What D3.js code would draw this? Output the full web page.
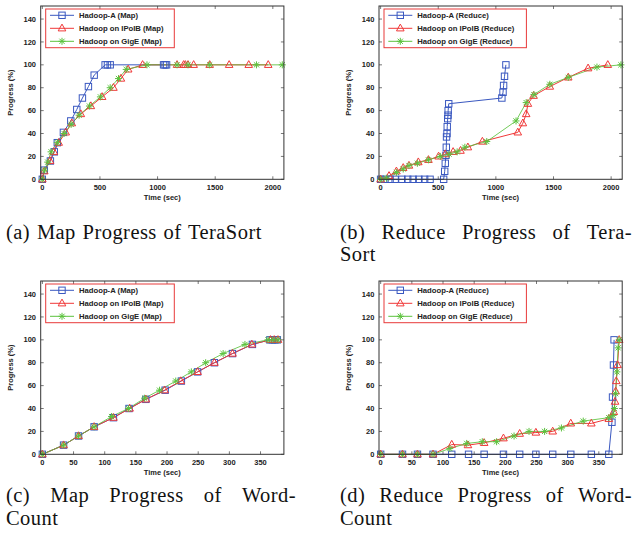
<!DOCTYPE html>
<html>
<head>
<meta charset="utf-8">
<script src="https://cdn.jsdelivr.net/npm/d3@7/dist/d3.min.js"></script>
<style>
  body { margin: 0; background: #fff; }
  svg { display: block; }
</style>
</head>
<body>
<svg id="fig" width="635" height="540"></svg>
<script>
// ---- data ----
const teraMapHadoopA = [[0,0],[17,8],[70,16],[104,24],[130,32],[183,41],[247,51],[299,61],[348,71],[400,81],[450,91],[545,100],[565,100],[589,100],[1052,100],[1065,100],[1078,100]];
const teraMapIPoIB = [[0,0],[17,7],[67,16],[100,24],[142,32],[203,41],[256,49],[334,57],[421,64],[519,72],[617,80],[682,88],[745,96],[870,100],[1169,100],[1226,100],[1241,100],[1264,100],[1313,100],[1452,100],[1621,100],[1791,100],[1960,100]];
const teraMapGigE = [[0,0],[20,8],[47,15],[76,24],[130,32],[189,40],[250,48],[319,56],[409,64],[504,72],[589,80],[661,88],[728,96],[908,100],[1169,100],[1264,100],[1452,100],[1858,100],[2082,100]];

const teraReduceHadoopA = [[0,0],[38,0],[82,0],[126,0],[185,0],[235,0],[282,0],[332,0],[382,0],[429,0],[547,0],[556,7],[561,14],[567,21],[570,28],[572,37],[576,40],[578,46],[582,53],[585,56],[586,60],[591,66],[1052,71],[1062,76],[1067,82],[1075,90],[1087,100]];
const teraReduceIPoIB = [[0,0],[73,3],[137,7],[196,10],[246,12],[327,15],[415,17],[503,20],[561,22],[629,24],[693,25],[757,28],[883,33],[1190,41],[1234,49],[1263,57],[1278,66],[1327,73],[1468,81],[1628,89],[1800,97],[1971,100]];
const teraReduceGigE = [[0,0],[50,1],[137,6],[196,9],[246,12],[319,14],[415,17],[518,20],[594,22],[664,24],[731,28],[921,33],[1175,51],[1263,67],[1330,74],[1468,83],[1628,89],[1877,98],[2085,100]];

const wordMapHadoopA = [[0,0],[34,8],[58,16],[83,24],[114,32],[139,40],[166,48],[197,56],[223,64],[249,72],[276,80],[305,88],[337,96],[365,100],[369,100],[373,100],[377,100]];
const wordMapIPoIB = [[0,0],[34,8],[58,16],[83,24],[114,32],[140,40],[166,48],[196,56],[222,64],[249,72],[276,80],[305,88],[336,96],[366,100],[372,100],[378,100]];
const wordMapGigE = [[0,0],[34,8],[58,16],[83,24],[111,33],[138,40],[164,49],[188,56],[214,64],[239,72],[262,80],[290,88],[325,96],[362,100],[370,100],[378,100]];

const wordReduceHadoopA = [[0,0],[35,0],[59,0],[84,0],[114,0],[141,0],[166,0],[197,0],[223,0],[249,0],[276,0],[305,0],[338,0],[366,0],[371,28],[372,50],[373.5,78],[374.5,100]];
const wordReduceIPoIB = [[0,0],[35,0],[59,0],[84,0],[114,8.5],[140,8],[166,10],[197,14],[223,18],[249,19],[276,20],[305,27],[338,27],[366,31],[374,37],[376,46],[377,55],[378,64],[380,78],[382.7,100]];
const wordReduceGigE = [[0,0],[35,0],[59,0],[84,0],[111,5],[138,9.5],[163,11],[186,11],[214,16],[238,20],[263,20],[290,23],[325,29],[366,32],[373,34],[375,40],[377,53],[379,72],[381,93],[382.7,100]];

const teraTicks = [0, 500, 1000, 1500, 2000];
const wordTicks = [0, 50, 100, 150, 200, 250, 300, 350];
const yTicks = [0, 20, 40, 60, 80, 100, 120, 140];
const seriesNames = ["Hadoop-A", "Hadoop on IPoIB", "Hadoop on GigE"];

// ---- styling ----
const colors = ["#3a58c0", "#f03838", "#5cc23e"];
const shapes = ["square", "triangle", "star"];
const axisFont = "Liberation Sans, Arial, sans-serif";
const serifFont = "Liberation Serif, Times New Roman, serif";

const svg = d3.select("#fig");

const panels = [
  { left: 40.7, top: 6, phase: "Map", xDomain: [-14, 2096], ticks: teraTicks,
    series: [teraMapHadoopA, teraMapIPoIB, teraMapGigE], legendW: 128.6 },
  { left: 379, top: 6, phase: "Reduce", xDomain: [-14, 2096], ticks: teraTicks,
    series: [teraReduceHadoopA, teraReduceIPoIB, teraReduceGigE], legendW: 142.4 },
  { left: 40.7, top: 281, phase: "Map", xDomain: [-2.7, 387.5], ticks: wordTicks,
    series: [wordMapHadoopA, wordMapIPoIB, wordMapGigE], legendW: 128.6 },
  { left: 379, top: 281, phase: "Reduce", xDomain: [-2.7, 387.5], ticks: wordTicks,
    series: [wordReduceHadoopA, wordReduceIPoIB, wordReduceGigE], legendW: 142.4 }
];
const plotW = 243.2, plotH = 173.3;

function drawMarker(g, shape, color) {
  if (shape === "square") {
    g.append("rect").attr("x", -3.2).attr("y", -3.2).attr("width", 6.4).attr("height", 6.4)
      .attr("fill", "none").attr("stroke", color).attr("stroke-width", 1);
  } else if (shape === "triangle") {
    g.append("path").attr("d", "M0,-4.2L3.8,2.6L-3.8,2.6Z")
      .attr("fill", "none").attr("stroke", color).attr("stroke-width", 1);
  } else {
    g.append("path").attr("d", "M-3.5,0H3.5M0,-3.5V3.5M-2.6,-2.6L2.6,2.6M-2.6,2.6L2.6,-2.6")
      .attr("fill", "none").attr("stroke", color).attr("stroke-width", 1);
  }
}

panels.forEach(p => {
  const x = d3.scaleLinear().domain(p.xDomain).range([0, plotW]);
  const y = d3.scaleLinear().domain([0, 151.4]).range([plotH, 0]);
  const g = svg.append("g").attr("transform", `translate(${p.left},${p.top})`);

  // mirrored inward ticks
  const tl = 3;
  g.selectAll(".ytl").data(yTicks).enter().append("path")
    .attr("d", d => `M0,${y(d)}h${tl}M${plotW},${y(d)}h${-tl}`)
    .attr("stroke", "#555").attr("stroke-width", 0.8);
  g.selectAll(".xtl").data(p.ticks).enter().append("path")
    .attr("d", d => `M${x(d)},${plotH}v${-tl}M${x(d)},0v${tl}`)
    .attr("stroke", "#555").attr("stroke-width", 0.8);

  g.selectAll(".ylab").data(yTicks).enter().append("text")
    .attr("x", -4.7).attr("y", d => y(d)).attr("dy", "0.35em")
    .attr("text-anchor", "end").attr("font-family", axisFont).attr("font-weight", "bold")
    .attr("font-size", 7.5).attr("fill", "#222").text(d => d);
  g.selectAll(".xlab").data(p.ticks).enter().append("text")
    .attr("x", d => x(d)).attr("y", plotH + 10.6)
    .attr("text-anchor", "middle").attr("font-family", axisFont).attr("font-weight", "bold")
    .attr("font-size", 7.5).attr("fill", "#222").text(d => d);

  g.append("text").attr("transform", `translate(-28,${plotH / 2}) rotate(-90)`)
    .attr("text-anchor", "middle").attr("font-family", axisFont).attr("font-weight", "bold")
    .attr("font-size", 7.5).attr("fill", "#222").text("Progress (%)");
  g.append("text").attr("x", plotW / 2).attr("y", plotH + 20.5)
    .attr("text-anchor", "middle").attr("font-family", axisFont).attr("font-weight", "bold")
    .attr("font-size", 7.5).attr("fill", "#222").text("Time (sec)");

  // series
  const line = d3.line().x(d => x(d[0])).y(d => y(d[1]));
  p.series.forEach((data, i) => {
    g.append("path").datum(data).attr("d", line)
      .attr("fill", "none").attr("stroke", colors[i]).attr("stroke-width", 1)
      .attr("stroke-opacity", i === 2 ? 0.85 : 1);
  });
  p.series.forEach((data, i) => {
    data.forEach(d => {
      const m = g.append("g").attr("transform", `translate(${x(d[0])},${y(d[1])})`);
      drawMarker(m, shapes[i], colors[i]);
    });
  });

  // frame
  g.append("rect").attr("width", plotW).attr("height", plotH)
    .attr("fill", "none").attr("stroke", "#333").attr("stroke-width", 1);

  // legend
  const lg = g.append("g").attr("transform", "translate(5,3)");
  lg.append("rect").attr("width", p.legendW).attr("height", 38.7)
    .attr("fill", "#fff").attr("stroke", "#e83a3a").attr("stroke-width", 1);
  seriesNames.forEach((name, i) => {
    const ry = 6.3 + i * 13;
    lg.append("path").attr("d", `M4.3,${ry}H28.3`).attr("stroke", colors[i]).attr("stroke-width", 1);
    const m = lg.append("g").attr("transform", `translate(16.3,${ry})`);
    drawMarker(m, shapes[i], colors[i]);
    lg.append("text").attr("x", 33.3).attr("y", ry).attr("dy", "0.35em")
      .attr("font-family", axisFont).attr("font-weight", "bold").attr("font-size", 7.7)
      .attr("fill", "#222").text(`${name} (${p.phase})`);
  });
});

// ---- captions (justified like the LaTeX subcaptions) ----
const captionLines = [
  { x: 6, w: 0, y: 239, words: ["(a)", "Map", "Progress", "of", "TeraSort"] },
  { x: 340, w: 292, y: 239, words: ["(b)", "Reduce", "Progress", "of", "Tera-"] },
  { x: 340, w: 0, y: 261, words: ["Sort"] },
  { x: 6, w: 290, y: 502, words: ["(c)", "Map", "Progress", "of", "Word-"] },
  { x: 6, w: 0, y: 525, words: ["Count"] },
  { x: 340, w: 292, y: 502, words: ["(d)", "Reduce", "Progress", "of", "Word-"] },
  { x: 340, w: 0, y: 525, words: ["Count"] }
];
const capSize = 20.5;
const capSpacing = 0.45;
captionLines.forEach(c => {
  if (!c.w) {
    svg.append("text").attr("x", c.x).attr("y", c.y)
      .attr("font-family", serifFont).attr("font-size", capSize).attr("fill", "#111")
      .attr("letter-spacing", capSpacing).attr("word-spacing", 1.2)
      .attr("xml:space", "preserve").text(c.words.join(" "));
    return;
  }
  const nodes = c.words.map(wd => svg.append("text").attr("y", c.y)
    .attr("font-family", serifFont).attr("font-size", capSize).attr("fill", "#111")
    .attr("letter-spacing", capSpacing).text(wd));
  const widths = nodes.map(n => n.node().getComputedTextLength());
  const gap = (c.w - d3.sum(widths)) / (c.words.length - 1);
  let cx = c.x;
  nodes.forEach((n, i) => { n.attr("x", cx); cx += widths[i] + gap; });
});
</script>
</body>
</html>
